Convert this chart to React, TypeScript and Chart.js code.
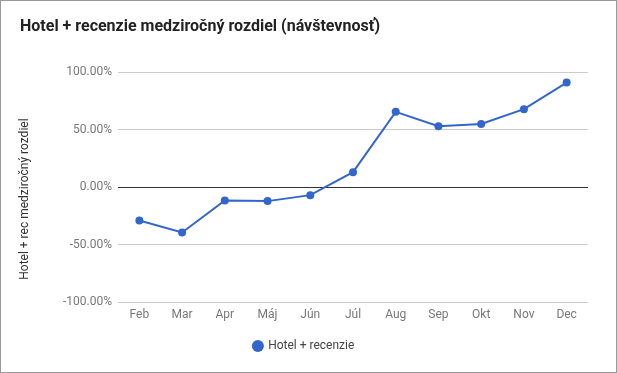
import React, { useEffect, useRef } from "react";
import { Chart, registerables } from "chart.js";

Chart.register(...registerables);

const categories = ["Feb", "Mar", "Apr", "Máj", "Jún", "Júl", "Aug", "Sep", "Okt", "Nov", "Dec"];
const seriesLabel = "Hotel + recenzie";
const seriesValues = [-29, -39.5, -11.7, -12.2, -7, 13, 65.5, 53, 55, 67.8, 91];
const yTicks = [-100, -50, 0, 50, 100];
const chartTitle = "Hotel + recenzie medziročný rozdiel (návštevnosť)";
const yAxisTitle = "Hotel + rec medziročný rozdiel";

const FONT = "Roboto, 'Noto Sans', sans-serif";

export default function App() {
  const ref = useRef<HTMLCanvasElement | null>(null);

  useEffect(() => {
    document.body.style.margin = "0";
    const canvas = ref.current;
    if (!canvas) return;

    const yTitlePlugin = {
      id: "yTitlePlugin",
      afterDraw(chart: any) {
        const ctx = chart.ctx;
        const area = chart.chartArea;
        ctx.save();
        ctx.font = `12px ${FONT}`;
        ctx.fillStyle = "#333333";
        ctx.textAlign = "center";
        ctx.textBaseline = "middle";
        ctx.translate(24, (area.top + area.bottom) / 2 + 12);
        ctx.rotate(-Math.PI / 2);
        ctx.fillText(yAxisTitle, 0, 0);
        ctx.restore();
      },
    };

    const chart = new Chart(canvas, {
      type: "line",
      data: {
        labels: categories,
        datasets: [
          {
            label: seriesLabel,
            data: seriesValues,
            borderColor: "#3366cc",
            backgroundColor: "#3366cc",
            borderWidth: 2,
            pointRadius: 4,
            pointHoverRadius: 4,
            pointBackgroundColor: "#3366cc",
            pointBorderWidth: 0,
            tension: 0,
          },
        ],
      },
      options: {
        animation: false,
        responsive: false,
        maintainAspectRatio: false,
        layout: { padding: { left: 19, right: 28, top: 0, bottom: 10 } },
        plugins: {
          title: {
            display: true,
            text: chartTitle,
            align: "start",
            color: "#222222",
            font: { family: FONT, size: 16, weight: "bold" },
            padding: { top: 16, bottom: 36 },
          },
          legend: {
            display: true,
            position: "bottom",
            labels: {
              usePointStyle: true,
              pointStyle: "circle",
              boxWidth: 8.5,
              boxHeight: 8.5,
              color: "#444444",
              font: { family: FONT, size: 12 },
              padding: 10,
            },
          },
          tooltip: { enabled: false },
        },
        scales: {
          x: {
            offset: true,
            grid: { display: false, drawTicks: false },
            border: { display: false },
            ticks: {
              color: "#777777",
              font: { family: FONT, size: 12 },
              padding: 6,
              autoSkip: false,
              maxRotation: 0,
            },
            afterFit(scale: any) {
              scale.height = 28;
            },
          },
          y: {
            min: -100,
            max: 100,
            afterBuildTicks(scale: any) {
              scale.ticks = yTicks.map((v) => ({ value: v }));
            },
            grid: {
              drawTicks: false,
              color: (ctx: any) => (ctx.tick && ctx.tick.value === 0 ? "#333333" : "#cccccc"),
              lineWidth: 1,
            },
            border: { display: false },
            ticks: {
              color: "#777777",
              font: { family: FONT, size: 12 },
              padding: 6,
              callback: (v: any) => `${Number(v).toFixed(2)}%`,
            },
            afterFit(scale: any) {
              scale.width = 98;
            },
          },
        },
      },
      plugins: [yTitlePlugin],
    });

    return () => chart.destroy();
  }, []);

  return (
    <div
      style={{
        position: "absolute",
        left: 0,
        top: 0,
        width: 617,
        height: 373,
        boxSizing: "border-box",
        border: "1px solid #9a9a9a",
        background: "#ffffff",
      }}
    >
      <canvas ref={ref} width={615} height={371} style={{ display: "block", width: 615, height: 371 }} />
    </div>
  );
}
